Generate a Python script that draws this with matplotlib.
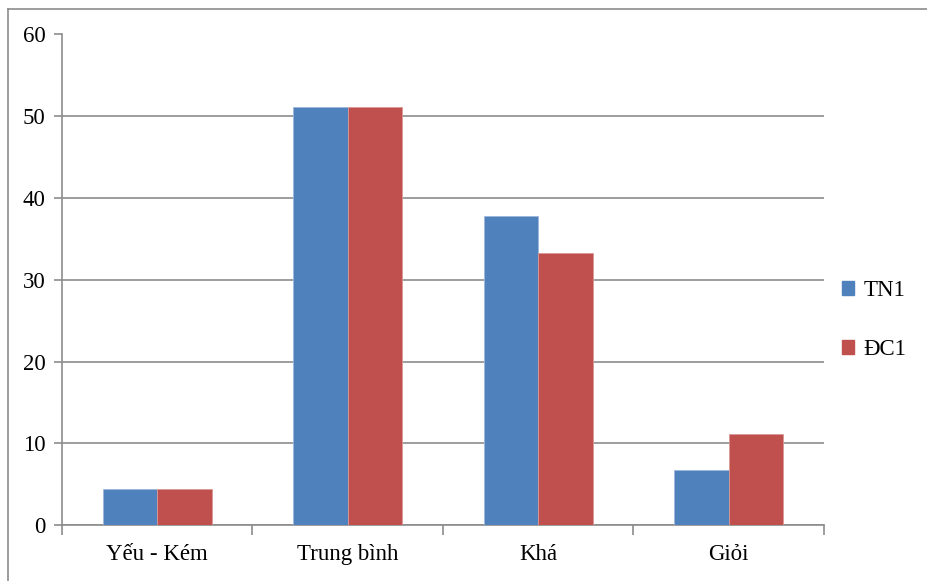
import matplotlib.pyplot as plt
import numpy as np
from matplotlib.lines import Line2D
from matplotlib.patches import Patch

categories = ["Yếu - Kém", "Trung bình", "Khá", "Giỏi"]
tn1 = [4.44, 51.11, 37.78, 6.67]
dc1 = [4.44, 51.11, 33.33, 11.11]

blue = "#4F81BD"
red = "#C0504D"
grid = "#8C8C8C"

plt.rcParams["font.family"] = ["Liberation Serif", "DejaVu Serif"]

fig = plt.figure(figsize=(9.28, 5.81), dpi=100)
ax = fig.add_axes([62 / 928, 1 - 525 / 581, 762 / 928, 490.5 / 581])

# chart frame: only its left and top edges fall inside the image
fx, fy = 8.5 / 928, 1 - 8.5 / 581
fig.add_artist(Line2D([fx, fx], [0, fy], transform=fig.transFigure, color=grid, linewidth=1.2))
fig.add_artist(Line2D([fx, 1], [fy, fy], transform=fig.transFigure, color=grid, linewidth=1.2))

x = np.arange(len(categories))
w = 1 / 3.5
ax.bar(x - w / 2, tn1, w, color=blue, edgecolor="#9DB6DA", linewidth=0.6, zorder=3, label="TN1")
ax.bar(x + w / 2, dc1, w, color=red, edgecolor="#DA9896", linewidth=0.6, zorder=3, label="ĐC1")

ax.set_xlim(-0.5, 3.5)
ax.set_ylim(0, 60)
ax.set_yticks(range(0, 61, 10))
ax.yaxis.grid(True, color=grid, linewidth=1.2, zorder=0)

ax.set_xticks(x)
ax.set_xticklabels(categories, fontsize=16.5)
ax.tick_params(axis="x", length=0, pad=14)
ax.set_xticks(np.arange(-0.5, 4, 1), minor=True)
ax.tick_params(axis="x", which="minor", length=7, color=grid, width=1.2, direction="out")
ax.tick_params(axis="y", labelsize=16.5, length=6, color=grid, width=1.2, pad=6)

for side in ["top", "right"]:
    ax.spines[side].set_visible(False)
for side in ["left", "bottom"]:
    ax.spines[side].set_color(grid)
    ax.spines[side].set_linewidth(1.2)

handles = [Patch(color=blue, label="TN1"), Patch(color=red, label="ĐC1")]
fig.legend(handles=handles, loc="center left", bbox_to_anchor=(821 / 928, 1 - 320 / 581),
           frameon=False, fontsize=16.5, handlelength=0.55, handleheight=0.55,
           handletextpad=0.4, labelspacing=1.65)

fig.savefig("out.png", dpi=100)
